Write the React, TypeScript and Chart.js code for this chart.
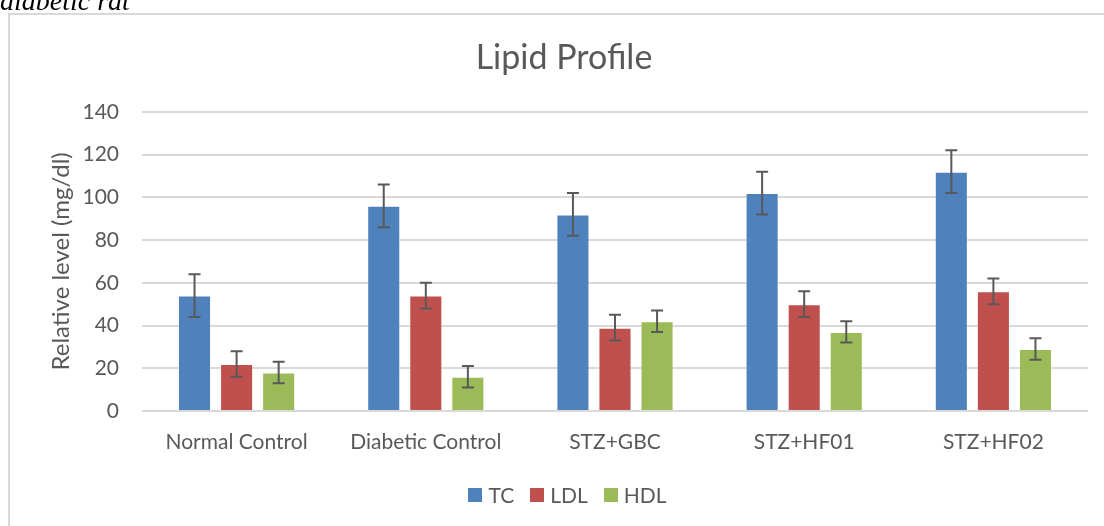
import React, { useEffect, useRef } from "react";
import { Chart, registerables } from "chart.js";

Chart.register(...registerables);

const categories = ["Normal Control", "Diabetic Control", "STZ+GBC", "STZ+HF01", "STZ+HF02"];
const tcValues = [54, 96, 92, 102, 112];
const ldlValues = [22, 54, 39, 50, 56];
const hdlValues = [18, 16, 42, 37, 29];
const tcErrors = [10, 10, 10, 10, 10];
const ldlErrors = [6, 6, 6, 6, 6];
const hdlErrors = [5, 5, 5, 5, 5];
const yTicks = [0, 20, 40, 60, 80, 100, 120, 140];

const FONT = "Lato";
const TEXT = "#595959";

const errorBarPlugin = {
  id: "errorBars",
  afterDatasetsDraw(chart: any) {
    const ctx = chart.ctx;
    const yScale = chart.scales.y;
    ctx.save();
    ctx.strokeStyle = "#595959";
    ctx.lineWidth = 2;
    chart.data.datasets.forEach((ds: any, i: number) => {
      const meta = chart.getDatasetMeta(i);
      meta.data.forEach((el: any, j: number) => {
        const v = ds.data[j];
        const e = ds.errors[j];
        const x = el.x;
        const yT = yScale.getPixelForValue(v + e);
        const yB = yScale.getPixelForValue(v - e);
        const cap = 6;
        ctx.beginPath();
        ctx.moveTo(x, yT);
        ctx.lineTo(x, yB);
        ctx.moveTo(x - cap, yT);
        ctx.lineTo(x + cap, yT);
        ctx.moveTo(x - cap, yB);
        ctx.lineTo(x + cap, yB);
        ctx.stroke();
      });
    });
    ctx.restore();
  },
};

// Legend drawn in Excel style: square, small gap, label, wider gap to next item.
const excelLegendPlugin = {
  id: "excelLegend",
  afterDraw(chart: any) {
    const ctx = chart.ctx;
    const box = 14;
    const gapText = 6;
    const gapItem = 16;
    const cx = 567.5;
    const cy = 495;
    ctx.save();
    ctx.font = `21px ${FONT}`;
    ctx.textBaseline = "middle";
    ctx.textAlign = "left";
    const items = chart.data.datasets.map((ds: any) => ({
      text: ds.label,
      color: ds.backgroundColor,
      w: ctx.measureText(ds.label).width,
    }));
    const total =
      items.reduce((s: number, it: any) => s + box + gapText + it.w, 0) + gapItem * (items.length - 1);
    let x = cx - total / 2;
    items.forEach((it: any) => {
      ctx.fillStyle = it.color;
      ctx.fillRect(Math.round(x), Math.round(cy - box / 2), box, box);
      ctx.fillStyle = TEXT;
      ctx.fillText(it.text, x + box + gapText, cy + 1);
      x += box + gapText + it.w + gapItem;
    });
    ctx.restore();
  },
};

export default function App() {
  const ref = useRef<HTMLCanvasElement | null>(null);
  useEffect(() => {
    if (!ref.current) return;
    const chart = new Chart(ref.current, {
      type: "bar",
      data: {
        labels: categories,
        datasets: [
          { label: "TC", data: tcValues, errors: tcErrors, backgroundColor: "#4F81BD", borderColor: "rgba(255,255,255,0.3)", borderWidth: 1 } as any,
          { label: "LDL", data: ldlValues, errors: ldlErrors, backgroundColor: "#C0504D", borderColor: "rgba(255,255,255,0.3)", borderWidth: 1 } as any,
          { label: "HDL", data: hdlValues, errors: hdlErrors, backgroundColor: "#9BBB59", borderColor: "rgba(255,255,255,0.3)", borderWidth: 1 } as any,
        ],
      },
      options: {
        responsive: false,
        animation: false,
        categoryPercentage: 0.667,
        barPercentage: 0.786,
        layout: { padding: { left: 40, right: 16, top: 30, bottom: 51 } },
        plugins: {
          title: {
            display: true,
            text: "Lipid Profile",
            color: TEXT,
            font: { family: FONT, size: 34, weight: "normal" },
            padding: { top: 8, bottom: 33 },
          },
          legend: { display: false },
          tooltip: { enabled: false },
        },
        scales: {
          x: {
            grid: { display: false, drawTicks: false },
            border: { display: false },
            ticks: { color: TEXT, font: { family: FONT, size: 21 }, padding: 19, maxRotation: 0 },
            afterFit: (axis: any) => {
              axis.height = 64;
            },
          },
          y: {
            min: 0,
            max: 140,
            afterBuildTicks: (axis: any) => {
              axis.ticks = yTicks.map((v) => ({ value: v }));
            },
            afterFit: (axis: any) => {
              axis.width = 102;
            },
            grid: { color: "#d9d9d9", lineWidth: 2, drawTicks: false },
            border: { display: false },
            ticks: { color: TEXT, font: { family: FONT, size: 21 }, padding: 23 },
            title: {
              display: true,
              text: "Relative level (mg/dl)",
              color: TEXT,
              font: { family: FONT, size: 24 },
              padding: { top: 7, bottom: 0 },
            },
          },
        },
      } as any,
      plugins: [errorBarPlugin, excelLegendPlugin],
    });
    return () => chart.destroy();
  }, []);

  return (
    <>
      <div
        style={{
          position: "fixed",
          left: 0,
          top: -13,
          fontFamily: "'Liberation Serif', serif",
          fontStyle: "italic",
          fontSize: 28,
          lineHeight: "28px",
          color: "#000",
          whiteSpace: "nowrap",
        }}
      >
        diabetic rat
      </div>
      <div
        style={{
          position: "fixed",
          left: 8,
          top: 13,
          width: 1200,
          height: 600,
          borderLeft: "2px solid #d9d9d9",
          borderTop: "2px solid #d9d9d9",
          background: "#fff",
        }}
      />
      <canvas
        ref={ref}
        width={1104}
        height={526}
        style={{ position: "fixed", left: 0, top: 0, width: 1104, height: 526 }}
      />
    </>
  );
}
